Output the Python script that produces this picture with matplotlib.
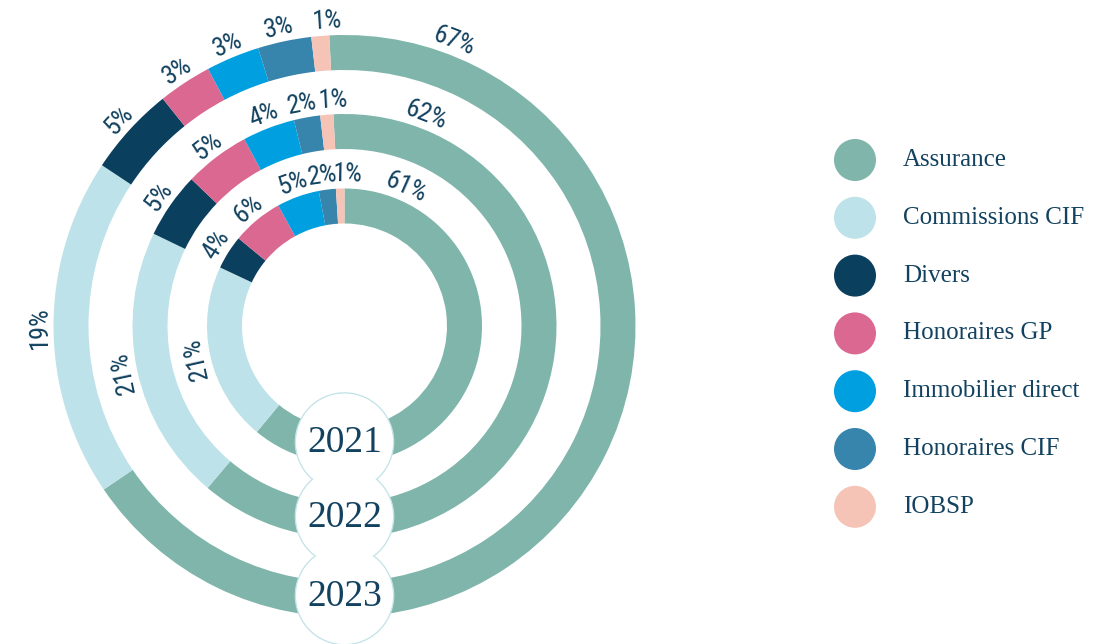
import matplotlib.pyplot as plt
from matplotlib.patches import Circle
from matplotlib import font_manager as fm
import numpy as np

# donnees
categories = ["Assurance", "Commissions CIF", "Divers", "Honoraires GP",
              "Immobilier direct", "Honoraires CIF", "IOBSP"]
annees = ["2021", "2022", "2023"]
v2021 = [61, 21, 4, 6, 5, 2, 1]
v2022 = [62, 21, 5, 5, 4, 2, 1]
v2023 = [67, 19, 5, 3, 3, 3, 1]
valeurs = [v2021, v2022, v2023]

couleurs = ["#7fb5aa", "#bde2e9", "#0b3f5e", "#da6890", "#009fe0", "#3784ad", "#f5c4b6"]
texte = "#12425f"

# police etroite pour les pourcentages, si dispo
etroites = [f for f in fm.fontManager.ttflist
            if ("ondensed" in f.fname or "Narrow" in f.fname)
            and f.style == "normal" and f.weight in (400, "normal", "regular")]
etroites.sort(key=lambda f: (0 if "Roboto" in f.fname else 1 if "Liberation" in f.fname else 2))
if etroites:
    fp_label = fm.FontProperties(fname=etroites[0].fname, size=19)
else:
    fp_label = fm.FontProperties(family="Roboto", size=16)

fig = plt.figure(figsize=(11.06, 6.44), dpi=100)
ax = fig.add_axes([0, 0, 1, 1])

cx, cy = 344.5, 318
rayons = [137.5, 212, 291]
largeur = 35
departs = [90, 93, 93]

centres_annee = []
for vals, R, st in zip(valeurs, rayons, departs):
    wedges, _ = ax.pie(vals, radius=R, center=(cx, cy), startangle=st,
                       counterclock=False, colors=couleurs,
                       wedgeprops=dict(width=largeur, linewidth=0))
    n = len(vals)
    rl = R + 14
    for i, (w, v) in enumerate(zip(wedges, vals)):
        if i == 0:
            ang = w.theta2 - 24
        else:
            ang = (w.theta1 + w.theta2) / 2
        # petits decalages (en px le long de l'arc) pour les deux derniers
        if i == n - 1:
            ang -= np.degrees(8 / rl)
        if i == n - 2:
            ang += np.degrees(3 / rl)
        x = cx + rl * np.cos(np.radians(ang))
        y = cy + rl * np.sin(np.radians(ang))
        ax.text(x, y, f"{v}%", rotation=ang - 90, rotation_mode="anchor",
                ha="center", va="center", color=texte, fontproperties=fp_label)
    centres_annee.append(cy - (R - largeur / 2) + 4)

# cercles des annees (contour de l'union)
for yc in centres_annee:
    ax.add_patch(Circle((cx, yc), 49, facecolor="white", edgecolor="#c5e4ea",
                        linewidth=1.2, zorder=5))
for yc in centres_annee:
    ax.add_patch(Circle((cx, yc), 48.4, facecolor="white", edgecolor="none", zorder=6))
for yc, a in zip(centres_annee, annees):
    ax.text(cx, yc - 1, a, ha="center", va="center", fontsize=27, color=texte,
            family="Liberation Serif", zorder=7)

# legende
for i, (c, nom) in enumerate(zip(couleurs, categories)):
    ly = 644 - (160 + i * 57.8)
    ax.add_patch(Circle((855, ly), 21, facecolor=c, edgecolor="none"))
    ax.text(903, ly, nom, ha="left", va="center", fontsize=18, color=texte,
            family="Liberation Serif")

ax.set_xlim(0, 1106)
ax.set_ylim(0, 644)
ax.set_aspect("equal")
ax.axis("off")

plt.savefig("out.png", dpi=100)
